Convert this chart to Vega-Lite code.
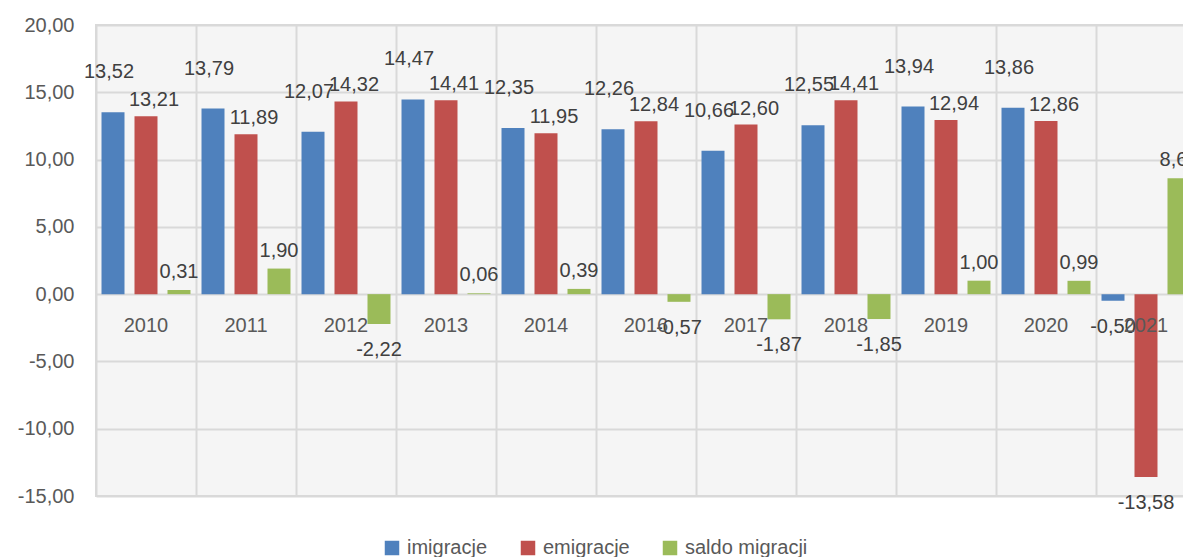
{
  "$schema": "https://vega.github.io/schema/vega-lite/v6.json",
  "autosize": {"type": "none"},
  "padding": {"left": 96, "top": 25, "right": 0, "bottom": 61},
  "width": 1100,
  "height": 471,
  "data": {"values": [
    {"rok": "2010", "seria": "imigracje", "wartosc": 13.52},
    {"rok": "2010", "seria": "emigracje", "wartosc": 13.21},
    {"rok": "2010", "seria": "saldo migracji", "wartosc": 0.31},
    {"rok": "2011", "seria": "imigracje", "wartosc": 13.79},
    {"rok": "2011", "seria": "emigracje", "wartosc": 11.89},
    {"rok": "2011", "seria": "saldo migracji", "wartosc": 1.90},
    {"rok": "2012", "seria": "imigracje", "wartosc": 12.07},
    {"rok": "2012", "seria": "emigracje", "wartosc": 14.32},
    {"rok": "2012", "seria": "saldo migracji", "wartosc": -2.22},
    {"rok": "2013", "seria": "imigracje", "wartosc": 14.47},
    {"rok": "2013", "seria": "emigracje", "wartosc": 14.41},
    {"rok": "2013", "seria": "saldo migracji", "wartosc": 0.06},
    {"rok": "2014", "seria": "imigracje", "wartosc": 12.35},
    {"rok": "2014", "seria": "emigracje", "wartosc": 11.95},
    {"rok": "2014", "seria": "saldo migracji", "wartosc": 0.39},
    {"rok": "2016", "seria": "imigracje", "wartosc": 12.26},
    {"rok": "2016", "seria": "emigracje", "wartosc": 12.84},
    {"rok": "2016", "seria": "saldo migracji", "wartosc": -0.57},
    {"rok": "2017", "seria": "imigracje", "wartosc": 10.66},
    {"rok": "2017", "seria": "emigracje", "wartosc": 12.60},
    {"rok": "2017", "seria": "saldo migracji", "wartosc": -1.87},
    {"rok": "2018", "seria": "imigracje", "wartosc": 12.55},
    {"rok": "2018", "seria": "emigracje", "wartosc": 14.41},
    {"rok": "2018", "seria": "saldo migracji", "wartosc": -1.85},
    {"rok": "2019", "seria": "imigracje", "wartosc": 13.94},
    {"rok": "2019", "seria": "emigracje", "wartosc": 12.94},
    {"rok": "2019", "seria": "saldo migracji", "wartosc": 1.00},
    {"rok": "2020", "seria": "imigracje", "wartosc": 13.86},
    {"rok": "2020", "seria": "emigracje", "wartosc": 12.86},
    {"rok": "2020", "seria": "saldo migracji", "wartosc": 0.99},
    {"rok": "2021", "seria": "imigracje", "wartosc": -0.50},
    {"rok": "2021", "seria": "emigracje", "wartosc": -13.58},
    {"rok": "2021", "seria": "saldo migracji", "wartosc": 8.61}
  ]},
  "encoding": {
    "x": {
      "field": "rok", "type": "nominal", "sort": null,
      "scale": {"paddingInner": 0, "paddingOuter": 0},
      "axis": {"title": null, "labels": false, "ticks": false, "domain": false, "grid": true, "gridColor": "#d9d9d9", "gridWidth": 2, "tickBand": "extent"}
    },
    "y": {
      "field": "wartosc", "type": "quantitative",
      "scale": {"domain": [-15, 20], "nice": false, "zero": false},
      "axis": {"title": null, "values": [-15, -10, -5, 0, 5, 10, 15, 20], "format": ".2f", "domain": false, "ticks": false, "labelPadding": 22, "labelFontSize": 20, "labelColor": "#595959", "labelFont": "Liberation Sans", "gridColor": "#d9d9d9", "gridWidth": 2}
    },
    "xOffset": {"field": "seria", "type": "nominal", "scale": {"domain": ["imigracje", "emigracje", "saldo migracji"], "paddingInner": 0.303, "paddingOuter": 0.167}}
  },
  "layer": [
    {
      "mark": {"type": "bar"},
      "encoding": {
        "color": {
          "field": "seria", "type": "nominal",
          "scale": {"domain": ["imigracje", "emigracje", "saldo migracji"], "range": ["#4F81BD", "#C0504D", "#9BBB59"]},
          "legend": {"title": null, "orient": "none", "legendX": 286, "legendY": 513, "direction": "horizontal", "symbolType": "square", "symbolSize": 210, "symbolStrokeWidth": 0, "labelFontSize": 20, "labelFont": "Liberation Sans", "labelColor": "#595959", "columnPadding": 30, "labelOffset": 5}
        }
      }
    },
    {
      "transform": [{"filter": "datum.wartosc >= 0 && datum.seria == 'imigracje'"}],
      "mark": {"type": "text", "baseline": "bottom", "dy": -30, "dx": -4, "fontSize": 20, "font": "Liberation Sans", "color": "#404040"},
      "encoding": {"text": {"field": "wartosc", "type": "quantitative", "format": ".2f"}}
    },
    {
      "transform": [{"filter": "datum.wartosc >= 0 && datum.seria == 'emigracje'"}],
      "mark": {"type": "text", "baseline": "bottom", "dy": -6, "dx": 8, "fontSize": 20, "font": "Liberation Sans", "color": "#404040"},
      "encoding": {"text": {"field": "wartosc", "type": "quantitative", "format": ".2f"}}
    },
    {
      "transform": [{"filter": "datum.wartosc >= 0 && datum.seria == 'saldo migracji'"}],
      "mark": {"type": "text", "baseline": "bottom", "dy": -8, "fontSize": 20, "font": "Liberation Sans", "color": "#404040"},
      "encoding": {"text": {"field": "wartosc", "type": "quantitative", "format": ".2f"}}
    },
    {
      "transform": [{"filter": "datum.wartosc < 0"}],
      "mark": {"type": "text", "baseline": "top", "dy": 16, "fontSize": 20, "font": "Liberation Sans", "color": "#404040"},
      "encoding": {"text": {"field": "wartosc", "type": "quantitative", "format": ".2f"}}
    },
    {
      "transform": [{"filter": "datum.seria == 'imigracje'"}],
      "mark": {"type": "text", "baseline": "middle", "dy": 32, "fontSize": 20, "font": "Liberation Sans", "color": "#595959"},
      "encoding": {
        "xOffset": {"value": 50},
        "y": {"datum": 0},
        "text": {"field": "rok", "type": "nominal"}
      }
    }
  ],
  "config": {
    "locale": {"number": {"decimal": ",", "thousands": " ", "grouping": [3], "currency": ["", " zł"], "minus": "-"}},
    "view": {"fill": "#f5f5f5", "stroke": "#d9d9d9", "strokeWidth": 2},
    "background": "white"
  }
}
